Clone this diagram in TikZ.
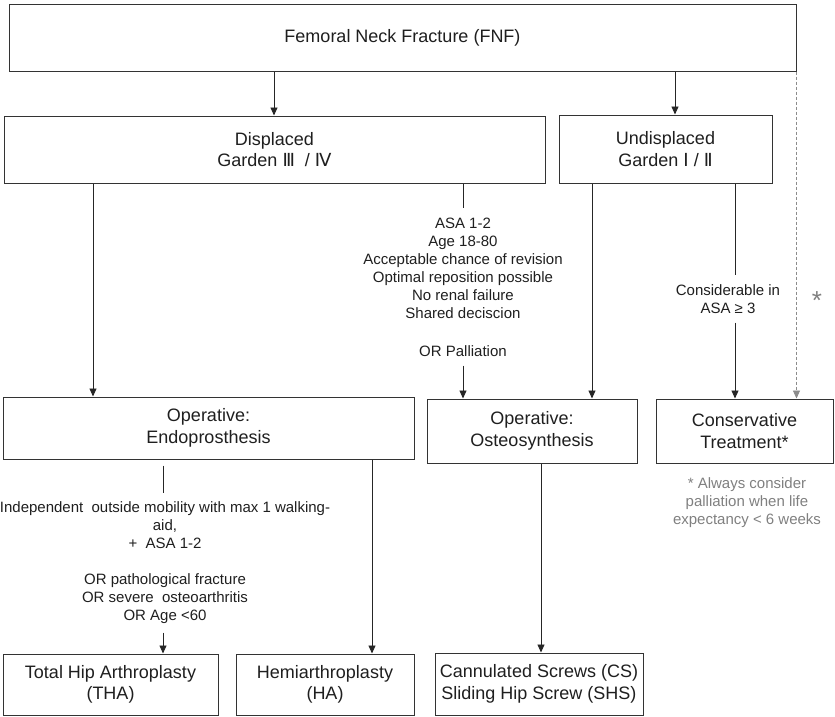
\documentclass[tikz,border=0pt]{standalone}
\usepackage{fontspec}
\setmainfont{Liberation Sans}
\newfontfamily\dv{DejaVu Sans}
\usetikzlibrary{arrows.meta}
\begin{document}
\begin{tikzpicture}[x=1pt,y=-1pt,
  box/.style={draw=black!80, line width=1pt, fill=white, inner sep=0pt, align=center,
              font=\fontsize{18}{21.5}\selectfont, text=black!88},
  lbl/.style={align=center, inner xsep=3pt, inner ysep=9pt, font=\fontsize{15}{18}\selectfont, text=black!88},
  arr/.style={draw=black!85, line width=0.9pt, -{Triangle[length=8pt,width=7pt]}},
  ln/.style={draw=black!85, line width=0.9pt},
  garr/.style={draw=black!45, line width=0.9pt, dash pattern=on 3pt off 2pt, -{Triangle[length=8pt,width=7pt]}}]
\useasboundingbox (0,0) rectangle (835,716);

% boxes
\node[box, minimum width=787pt, minimum height=67pt] (fnf) at (402.5,37.5) {Femoral Neck Fracture (FNF)};
\node[box, minimum width=541pt, minimum height=67pt] (disp) at (274.5,149.5) {Displaced\\Garden {\dv Ⅲ}\ \ / {\dv Ⅳ}};
\node[box, minimum width=213pt, minimum height=68pt] (undisp) at (665.5,149) {Undisplaced\\Garden {\dv Ⅰ} / {\dv Ⅱ}};
\node[box, minimum width=411pt, minimum height=62pt] (endo) at (208.5,428) {Operative:\\Endoprosthesis};
\node[box, minimum width=210pt, minimum height=64pt] (osteo) at (532,431) {Operative:\\Osteosynthesis};
\node[box, minimum width=177pt, minimum height=64pt] (cons) at (744.5,431) {Conservative\\Treatment*};
\node[box, minimum width=215pt, minimum height=61pt] (tha) at (110.5,684.5) {Total Hip Arthroplasty\\(THA)};
\node[box, minimum width=178pt, minimum height=61pt] (ha) at (325,684.5) {Hemiarthroplasty\\(HA)};
\node[box, minimum width=208pt, minimum height=62pt] (cs) at (539,684) {Cannulated Screws (CS)\\Sliding Hip Screw (SHS)};

% labels
\node[lbl] (l1) at (463,287) {ASA 1-2\\Age 18-80\\Acceptable chance of revision\\Optimal reposition possible\\No renal failure\\Shared deciscion\\[20pt]OR Palliation};
\node[lbl] (l2) at (728,299) {Considerable in\\ASA ≥ 3};
\node[lbl, inner ysep=8.5pt] (l3) at (165,563) {Independent\ \ outside mobility with max 1 walking-\\aid,\\+\ \ ASA 1-2\\[18pt]OR pathological fracture\\OR severe\ \ osteoarthritis\\OR Age <60};
\node[lbl, text=black!50] (fn) at (747,503) {* Always consider\\palliation when life\\expectancy < 6 weeks};
\node[font=\fontsize{26}{26}\selectfont, text=black!50, inner sep=0pt] (st) at (817,301) {*};

% x positions of connectors
\coordinate (c274) at (274,0);
\coordinate (c675) at (675,0);
\coordinate (c93) at (93,0);
\coordinate (c463) at (463,0);
\coordinate (c592) at (592,0);
\coordinate (c735) at (735,0);
\coordinate (c163) at (163,0);
\coordinate (c372) at (372,0);
\coordinate (c541) at (541,0);

% connectors
\draw[arr] (fnf.south -| c274) -- (disp.north -| c274);
\draw[arr] (fnf.south -| c675) -- (undisp.north -| c675);
\draw[arr] (disp.south -| c93) -- (endo.north -| c93);
\draw[ln] (disp.south -| c463) -- (l1.north -| c463);
\draw[arr] (l1.south -| c463) -- (osteo.north -| c463);
\draw[arr] (undisp.south -| c592) -- (osteo.north -| c592);
\draw[ln] (undisp.south -| c735) -- (l2.north -| c735);
\draw[arr] (l2.south -| c735) -- (cons.north -| c735);
\draw[garr] (fnf.south east) -- (cons.north -| fnf.south east);
\draw[ln, shorten <=6pt] (endo.south -| c163) -- (l3.north -| c163);
\draw[arr] (l3.south -| c163) -- (tha.north -| c163);
\draw[arr] (endo.south -| c372) -- (ha.north -| c372);
\draw[arr] (osteo.south -| c541) -- (cs.north -| c541);
\end{tikzpicture}
\end{document}
